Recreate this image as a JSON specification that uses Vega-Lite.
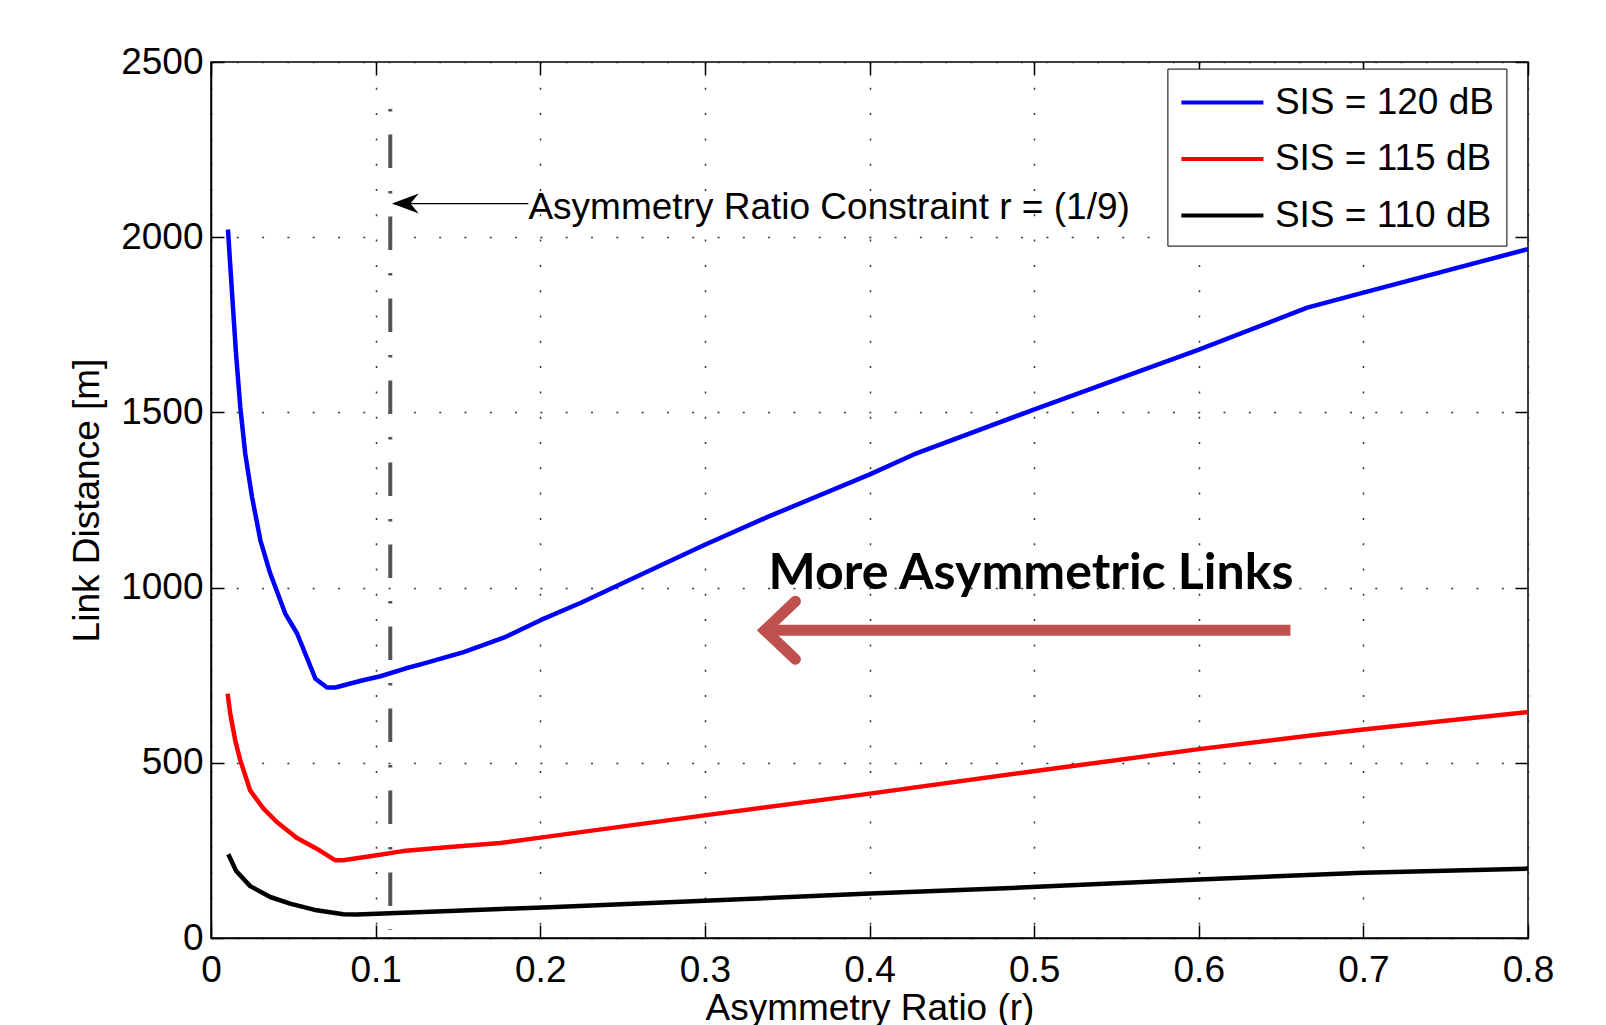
{
  "$schema": "https://vega.github.io/schema/vega-lite/v6.json",
  "width": 1317,
  "height": 876,
  "autosize": {"type": "none"},
  "padding": {"left": 211, "top": 62, "right": 78, "bottom": 87},
  "background": "white",
  "config": {
    "view": {"stroke": "black", "strokeWidth": 1.5},
    "font": "Liberation Sans",
    "legend": {
      "orient": "none",
      "legendX": 956.4,
      "legendY": 6.6,
      "symbolType": "M-1,0 L3.1,0",
      "symbolSize": 1600,
      "symbolStrokeWidth": 4,
      "symbolFillColor": "transparent",
      "labelFontSize": 37,
      "labelFont": "Liberation Sans",
      "labelColor": "black",
      "labelLimit": 400,
      "labelOffset": 51.5,
      "strokeColor": "black",
      "fillColor": "white",
      "padding": 12,
      "rowPadding": 16.5,
      "title": null
    }
  },
  "datasets": {
    "curves": [
      {"r": 0.0103, "d": 2022, "s": "SIS = 120 dB"},
      {"r": 0.0128, "d": 1839, "s": "SIS = 120 dB"},
      {"r": 0.0152, "d": 1668, "s": "SIS = 120 dB"},
      {"r": 0.0178, "d": 1515, "s": "SIS = 120 dB"},
      {"r": 0.0208, "d": 1382, "s": "SIS = 120 dB"},
      {"r": 0.0249, "d": 1259, "s": "SIS = 120 dB"},
      {"r": 0.030, "d": 1135, "s": "SIS = 120 dB"},
      {"r": 0.036, "d": 1040, "s": "SIS = 120 dB"},
      {"r": 0.0451, "d": 926, "s": "SIS = 120 dB"},
      {"r": 0.0523, "d": 869, "s": "SIS = 120 dB"},
      {"r": 0.0634, "d": 740, "s": "SIS = 120 dB"},
      {"r": 0.0705, "d": 715, "s": "SIS = 120 dB"},
      {"r": 0.0755, "d": 715, "s": "SIS = 120 dB"},
      {"r": 0.0917, "d": 735, "s": "SIS = 120 dB"},
      {"r": 0.1029, "d": 747, "s": "SIS = 120 dB"},
      {"r": 0.118, "d": 769, "s": "SIS = 120 dB"},
      {"r": 0.129, "d": 783, "s": "SIS = 120 dB"},
      {"r": 0.1535, "d": 816, "s": "SIS = 120 dB"},
      {"r": 0.1778, "d": 857, "s": "SIS = 120 dB"},
      {"r": 0.2001, "d": 907, "s": "SIS = 120 dB"},
      {"r": 0.2244, "d": 956, "s": "SIS = 120 dB"},
      {"r": 0.2548, "d": 1023, "s": "SIS = 120 dB"},
      {"r": 0.2993, "d": 1121, "s": "SIS = 120 dB"},
      {"r": 0.3378, "d": 1201, "s": "SIS = 120 dB"},
      {"r": 0.4002, "d": 1323, "s": "SIS = 120 dB"},
      {"r": 0.4269, "d": 1380, "s": "SIS = 120 dB"},
      {"r": 0.4998, "d": 1508, "s": "SIS = 120 dB"},
      {"r": 0.5403, "d": 1577, "s": "SIS = 120 dB"},
      {"r": 0.6001, "d": 1679, "s": "SIS = 120 dB"},
      {"r": 0.6659, "d": 1799, "s": "SIS = 120 dB"},
      {"r": 0.700, "d": 1842, "s": "SIS = 120 dB"},
      {"r": 0.800, "d": 1966, "s": "SIS = 120 dB"},
      {"r": 0.0101, "d": 697, "s": "SIS = 115 dB"},
      {"r": 0.0117, "d": 640, "s": "SIS = 115 dB"},
      {"r": 0.0147, "d": 564, "s": "SIS = 115 dB"},
      {"r": 0.0178, "d": 507, "s": "SIS = 115 dB"},
      {"r": 0.0238, "d": 421, "s": "SIS = 115 dB"},
      {"r": 0.0319, "d": 369, "s": "SIS = 115 dB"},
      {"r": 0.040, "d": 331, "s": "SIS = 115 dB"},
      {"r": 0.052, "d": 286, "s": "SIS = 115 dB"},
      {"r": 0.0642, "d": 255, "s": "SIS = 115 dB"},
      {"r": 0.0753, "d": 222, "s": "SIS = 115 dB"},
      {"r": 0.0804, "d": 222, "s": "SIS = 115 dB"},
      {"r": 0.1006, "d": 236, "s": "SIS = 115 dB"},
      {"r": 0.1167, "d": 248, "s": "SIS = 115 dB"},
      {"r": 0.145, "d": 260, "s": "SIS = 115 dB"},
      {"r": 0.1758, "d": 271, "s": "SIS = 115 dB"},
      {"r": 0.2056, "d": 290, "s": "SIS = 115 dB"},
      {"r": 0.2997, "d": 350, "s": "SIS = 115 dB"},
      {"r": 0.4002, "d": 412, "s": "SIS = 115 dB"},
      {"r": 0.4917, "d": 471, "s": "SIS = 115 dB"},
      {"r": 0.6001, "d": 539, "s": "SIS = 115 dB"},
      {"r": 0.6667, "d": 577, "s": "SIS = 115 dB"},
      {"r": 0.700, "d": 595, "s": "SIS = 115 dB"},
      {"r": 0.800, "d": 645, "s": "SIS = 115 dB"},
      {"r": 0.0105, "d": 239, "s": "SIS = 110 dB"},
      {"r": 0.0153, "d": 191, "s": "SIS = 110 dB"},
      {"r": 0.0238, "d": 148, "s": "SIS = 110 dB"},
      {"r": 0.036, "d": 117, "s": "SIS = 110 dB"},
      {"r": 0.048, "d": 98, "s": "SIS = 110 dB"},
      {"r": 0.0642, "d": 79, "s": "SIS = 110 dB"},
      {"r": 0.0804, "d": 68, "s": "SIS = 110 dB"},
      {"r": 0.0885, "d": 67, "s": "SIS = 110 dB"},
      {"r": 0.1046, "d": 70, "s": "SIS = 110 dB"},
      {"r": 0.145, "d": 77, "s": "SIS = 110 dB"},
      {"r": 0.1758, "d": 83, "s": "SIS = 110 dB"},
      {"r": 0.2056, "d": 88, "s": "SIS = 110 dB"},
      {"r": 0.2997, "d": 106, "s": "SIS = 110 dB"},
      {"r": 0.4002, "d": 127, "s": "SIS = 110 dB"},
      {"r": 0.4917, "d": 144, "s": "SIS = 110 dB"},
      {"r": 0.6001, "d": 167, "s": "SIS = 110 dB"},
      {"r": 0.700, "d": 186, "s": "SIS = 110 dB"},
      {"r": 0.800, "d": 198, "s": "SIS = 110 dB"}
    ],
    "constraint": [{"r": 0.1089, "top": 2366, "bot": 23.4}],
    "note": [{"tip": 0.110, "r": 0.1105, "r2": 0.1928, "y": 2096, "ty": 2051, "label": "Asymmetry Ratio Constraint r = (1/9)"}],
    "bigArrowShaft": [{"r": 0.3364, "r2": 0.6557, "y": 878}],
    "bigArrowHead": [
      {"r": 0.355, "y": 961, "o": 1},
      {"r": 0.3364, "y": 878, "o": 2},
      {"r": 0.355, "y": 795.4, "o": 3}
    ],
    "bigLabel": [{"r": 0.4981, "y": 995, "label": "More Asymmetric Links"}]
  },
  "layer": [
    {
      "data": {"name": "curves"},
      "mark": {"type": "line", "strokeWidth": 4.5, "strokeJoin": "round"},
      "encoding": {
        "x": {
          "field": "r", "type": "quantitative",
          "scale": {"domain": [0, 0.8], "nice": false, "zero": false},
          "axis": {
            "orient": "bottom",
            "values": [0, 0.1, 0.2, 0.3, 0.4, 0.5, 0.6, 0.7, 0.8],
            "format": "~g",
            "grid": true, "gridColor": "#333333", "gridDash": [2, 23.3], "gridWidth": 1.5,
            "tickSize": -13, "tickColor": "black", "tickWidth": 1.5,
            "domainColor": "black", "domainWidth": 1.5,
            "labelFontSize": 37, "labelColor": "black", "labelFont": "Liberation Sans",
            "labelPadding": 27.6, "labelFlush": false, "labelOverlap": false,
            "title": "Asymmetry Ratio (r)", "titleFontSize": 37, "titleFontWeight": "normal",
            "titleColor": "black", "titleFont": "Liberation Sans", "titlePadding": 2
          }
        },
        "y": {
          "field": "d", "type": "quantitative",
          "scale": {"domain": [0, 2500], "nice": false},
          "axis": {
            "orient": "left",
            "values": [0, 500, 1000, 1500, 2000, 2500],
            "format": "d",
            "grid": true, "gridColor": "#333333", "gridDash": [2, 23.3], "gridWidth": 1.5,
            "tickSize": -13, "tickColor": "black", "tickWidth": 1.5,
            "domainColor": "black", "domainWidth": 1.5,
            "labelFontSize": 37, "labelColor": "black", "labelFont": "Liberation Sans",
            "labelPadding": 21, "labelFlush": false, "labelOverlap": false,
            "title": "Link Distance [m]", "titleFontSize": 37, "titleFontWeight": "normal",
            "titleColor": "black", "titleFont": "Liberation Sans", "titlePadding": 14
          }
        },
        "color": {
          "field": "s", "type": "nominal",
          "scale": {
            "domain": ["SIS = 120 dB", "SIS = 115 dB", "SIS = 110 dB"],
            "range": ["#0000ff", "#ff0000", "#000000"]
          },
          "legend": {}
        }
      }
    },
    {
      "data": {"name": "constraint"},
      "mark": {"type": "rule", "color": "#555555", "strokeWidth": 4, "strokeDash": [2.5, 23, 33.5, 23]},
      "encoding": {
        "x": {
          "field": "r", "type": "quantitative",
          "axis": {
            "orient": "top", "values": [0, 0.1, 0.2, 0.3, 0.4, 0.5, 0.6, 0.7, 0.8],
            "labels": false, "grid": false, "domain": false, "title": null,
            "tickSize": -13, "tickColor": "black", "tickWidth": 1.5
          }
        },
        "y": {
          "field": "top", "type": "quantitative",
          "axis": {
            "orient": "right", "values": [0, 500, 1000, 1500, 2000, 2500],
            "labels": false, "grid": false, "domain": false, "title": null,
            "tickSize": -13, "tickColor": "black", "tickWidth": 1.5
          }
        },
        "y2": {"field": "bot"}
      }
    },
    {
      "data": {"name": "note"},
      "mark": {"type": "rule", "color": "black", "strokeWidth": 1.3},
      "encoding": {
        "x": {"field": "r", "type": "quantitative", "axis": null},
        "x2": {"field": "r2"},
        "y": {"field": "y", "type": "quantitative", "axis": null}
      }
    },
    {
      "data": {"name": "note"},
      "mark": {"type": "point", "shape": "M0,0 L2,-0.75 L1.375,0 L2,0.75 Z", "size": 711, "filled": true, "color": "black", "opacity": 1, "strokeWidth": 0},
      "encoding": {
        "x": {"field": "tip", "type": "quantitative", "axis": null},
        "y": {"field": "y", "type": "quantitative", "axis": null}
      }
    },
    {
      "data": {"name": "note"},
      "mark": {"type": "text", "align": "left", "baseline": "alphabetic", "fontSize": 37, "font": "Liberation Sans", "color": "black"},
      "encoding": {
        "x": {"field": "r2", "type": "quantitative", "axis": null},
        "y": {"field": "ty", "type": "quantitative", "axis": null},
        "text": {"field": "label"}
      }
    },
    {
      "data": {"name": "bigArrowShaft"},
      "mark": {"type": "rule", "color": "#c0504d", "strokeWidth": 11, "strokeCap": "butt"},
      "encoding": {
        "x": {"field": "r", "type": "quantitative", "axis": null},
        "x2": {"field": "r2"},
        "y": {"field": "y", "type": "quantitative", "axis": null}
      }
    },
    {
      "data": {"name": "bigArrowHead"},
      "mark": {"type": "line", "color": "#c0504d", "strokeWidth": 11, "strokeCap": "round", "strokeJoin": "miter"},
      "encoding": {
        "x": {"field": "r", "type": "quantitative", "axis": null},
        "y": {"field": "y", "type": "quantitative", "axis": null},
        "order": {"field": "o"}
      }
    },
    {
      "data": {"name": "bigLabel"},
      "mark": {"type": "text", "align": "center", "baseline": "alphabetic", "fontSize": 50, "font": "Lato", "fontWeight": "bold", "color": "black"},
      "encoding": {
        "x": {"field": "r", "type": "quantitative", "axis": null},
        "y": {"field": "y", "type": "quantitative", "axis": null},
        "text": {"field": "label"}
      }
    }
  ],
  "resolve": {"axis": {"x": "independent", "y": "independent"}}
}
